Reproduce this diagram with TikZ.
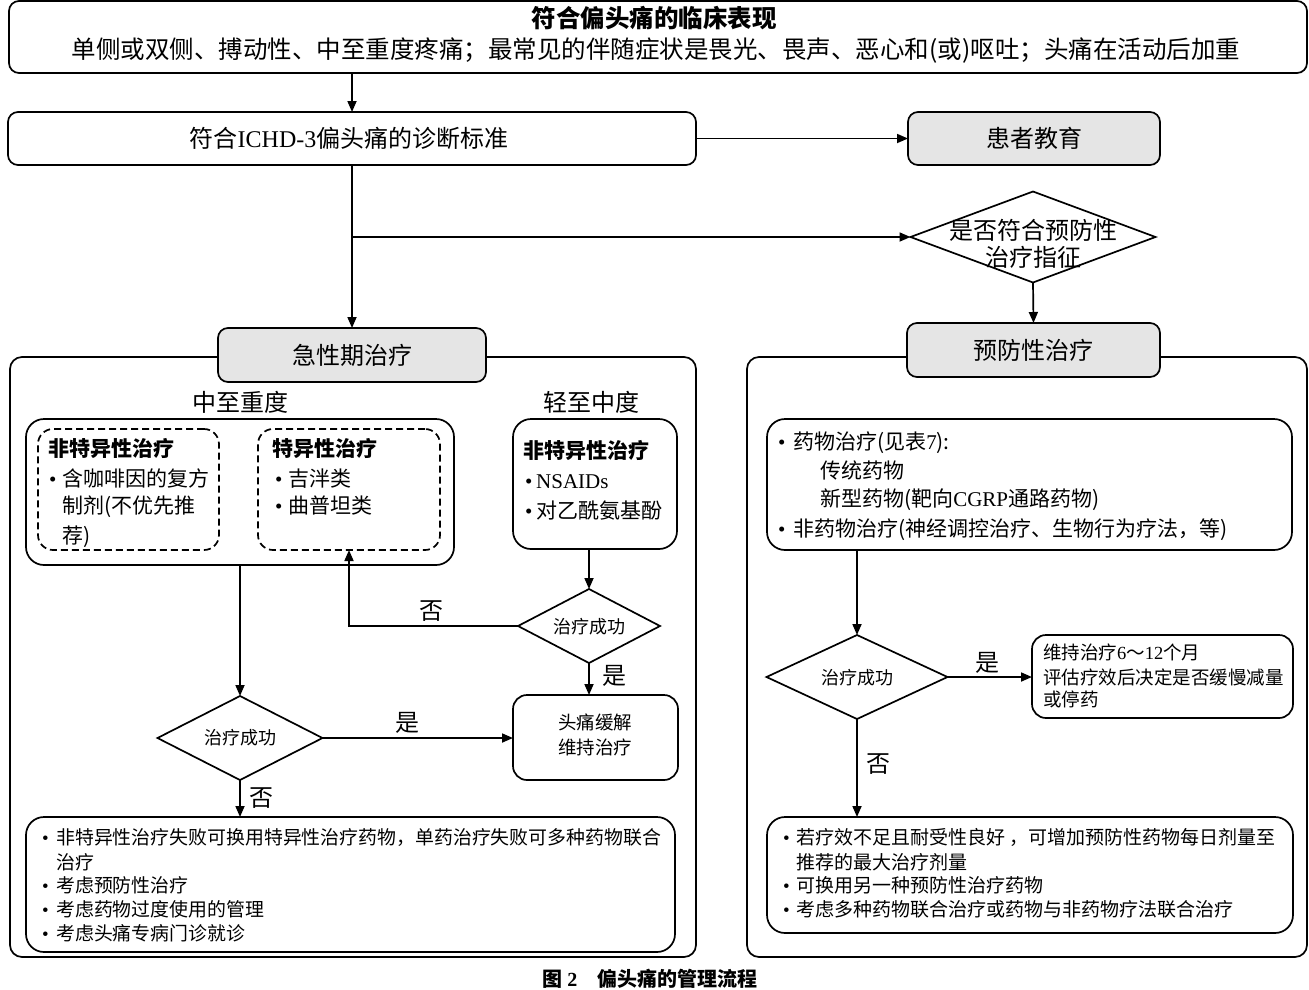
\documentclass[tikz,border=0pt]{standalone}
\usepackage{fontspec}
\setmainfont{Noto Sans CJK SC}
\newfontfamily\lat{Liberation Serif}
\usetikzlibrary{arrows.meta,shapes.geometric}
\newcommand{\fsz}[1]{\fontsize{#1}{#1}\selectfont}
\tikzset{
  lw/.style={line width=1.7pt},
  rbox/.style={draw,lw,rounded corners=#1,anchor=north west,inner sep=0pt,outer sep=0pt},
  rbox/.default=10pt,
  gbox/.style={rbox,fill=gray!20},
  dbox/.style={draw,lw,dashed,dash pattern=on 7pt off 4pt,rounded corners=15pt,anchor=north west,inner sep=0pt,outer sep=0pt},
  dia/.style={draw,lw,diamond,inner sep=0pt,outer sep=0pt,fill=white},
  arr/.style={lw,-{Triangle[length=11pt,width=9pt]}},
  ln/.style={lw},
  tc/.style={anchor=base,inner sep=0pt,font=\fsz{#1}},
  tl/.style={anchor=base west,inner sep=0pt,font=\fsz{#1}},
  tb/.style={anchor=base west,inner sep=0pt,font=\fsz{#1}\bfseries},
}
\begin{document}
\begin{tikzpicture}[x=1pt,y=-1pt]
\useasboundingbox (0,0) rectangle (1309,989);

% panels (drawn first)
\node[rbox=12pt,minimum width=686pt,minimum height=600pt] (lpanel) at (10,357) {};
\node[rbox=12pt,minimum width=560pt,minimum height=600pt] (rpanel) at (747,357) {};

% top
\node[rbox,minimum width=1298pt,minimum height=72pt] (top) at (9,1) {};
\node[tc=24.5,font=\fsz{24.5}\bfseries] (toptitle) at (654,27) {符合偏头痛的临床表现};
\node[tc=24.5] (topline) at (656,58) {单侧或双侧、搏动性、中至重度疼痛；最常见的伴随症状是畏光、畏声、恶心和(或)呕吐；头痛在活动后加重};

\node[rbox,minimum width=688pt,minimum height=53pt] (diag) at (8,112) {};
\node[tc=24] (diagt) at (349,147) {符合{\lat ICHD-3}偏头痛的诊断标准};

\node[gbox,minimum width=252pt,minimum height=53pt] (edu) at (908,112) {};
\node[tc=24] (edut) at (1034,147) {患者教育};

\node[dia,minimum width=245pt,minimum height=91pt] (ind) at (1033,237) {};
\node[tc=24] (indt1) at (1033,239) {是否符合预防性};
\node[tc=24] (indt2) at (1033,266) {治疗指征};

\node[gbox,minimum width=268pt,minimum height=54pt] (acute) at (218,328) {};
\node[tc=24] (acutet) at (352,364) {急性期治疗};

\node[gbox,minimum width=253pt,minimum height=54pt] (prev) at (907,323) {};
\node[tc=24] (prevt) at (1033,359) {预防性治疗};

% arrows top part
\draw[arr] (top.south -| diag.north) -- (diag.north);
\draw[arr] (diag.east) -- (edu.west);
\draw[arr] (diag.south) -- (acute.north);
\draw[arr] (diag.south |- ind.west) -- (ind.west);
\draw[arr] (ind.south) -- (prev.north);

% left panel
\node[tc=24] (sevl) at (240,411) {中至重度};
\node[tc=24] (mildl) at (591,411) {轻至中度};

\node[rbox=18pt,minimum width=428pt,minimum height=146pt] (sev) at (26,419) {};
\node[dbox,minimum width=181pt,minimum height=121pt] (ns) at (38,429) {};
\node[dbox,minimum width=182pt,minimum height=121pt] (sp) at (258,429) {};

\node[tb=21] (nst) at (48,456) {非特异性治疗};
\node[tl=21] (nsb) at (49,486) {\lat •};
\node[tl=21] (ns1) at (62,486) {含咖啡因的复方};
\node[tl=21] (ns2) at (62,513) {制剂(不优先推};
\node[tl=21] (ns3) at (62,543) {荐)};

\node[tb=21] (spt) at (272,456) {特异性治疗};
\node[tl=21] (spb1) at (275,486) {\lat •};
\node[tl=21] (sp1) at (288,486) {吉泮类};
\node[tl=21] (spb2) at (275,513) {\lat •};
\node[tl=21] (sp2) at (288,513) {曲普坦类};

\node[rbox=18pt,minimum width=164pt,minimum height=130pt] (mild) at (513,419) {};
\node[tb=21] (mildt) at (523,458) {非特异性治疗};
\node[tl=21] (mb1) at (525,488) {\lat •};
\node[tl=21] (m1) at (536,488) {\lat NSAIDs};
\node[tl=21] (mb2) at (525,518) {\lat •};
\node[tl=21] (m2) at (536,518) {对乙酰氨基酚};

\node[dia,minimum width=142pt,minimum height=74pt] (d1) at (589,626) {};
\node[tc=18] (d1t) at (589,633) {治疗成功};

\node[rbox=14pt,minimum width=165pt,minimum height=85pt] (relief) at (513,695) {};
\node[tc=18.5] (rt1) at (595,729) {头痛缓解};
\node[tc=18.5] (rt2) at (595,754) {维持治疗};

\node[dia,minimum width=165pt,minimum height=84pt] (d2) at (240,738) {};
\node[tc=18] (d2t) at (240,744) {治疗成功};

\node[rbox=18pt,minimum width=649pt,minimum height=135pt] (bot1) at (26,817) {};
\node[tl=18.9] (b1b1) at (42,844) {\lat •};
\node[tl=18.9] (b1l1) at (56,844) {非特异性治疗失败可换用特异性治疗药物，单药治疗失败可多种药物联合};
\node[tl=18.9] (b1l2) at (56,869) {治疗};
\node[tl=18.9] (b1b2) at (42,892) {\lat •};
\node[tl=18.9] (b1l3) at (56,892) {考虑预防性治疗};
\node[tl=18.9] (b1b3) at (42,916) {\lat •};
\node[tl=18.9] (b1l4) at (56,916) {考虑药物过度使用的管理};
\node[tl=18.9] (b1b4) at (42,940) {\lat •};
\node[tl=18.9] (b1l5) at (56,940) {考虑头痛专病门诊就诊};

\draw[arr] (d1.north |- mild.south) -- (d1.north);
\draw[arr] (d1.west) -| (sp.south);
\node[tc=24] (no1) at (431,619) {否};
\draw[arr] (d1.south) -- (d1.south |- relief.north);
\node[tc=24] (yes1) at (614,684) {是};
\draw[arr] (sev.south -| d2.north) -- (d2.north);
\draw[arr] (d2.east) -- (d2.east -| relief.west);
\node[tc=24] (yes2) at (407,731) {是};
\draw[arr] (d2.south) -- (d2.south |- bot1.north);
\node[tc=24] (no2) at (261,806) {否};

% right panel
\node[rbox=18pt,minimum width=525pt,minimum height=131pt] (drugs) at (767,419) {};
\node[tl=21] (drb1) at (778,449) {\lat •};
\node[tl=21] (dr1) at (793,449) {药物治疗(见表{\lat 7}):};
\node[tl=21] (dr2) at (820,478) {传统药物};
\node[tl=21] (dr3) at (820,506) {新型药物(靶向{\lat CGRP}通路药物)};
\node[tl=21] (drb2) at (778,536) {\lat •};
\node[tl=21] (dr4) at (793,536) {非药物治疗(神经调控治疗、生物行为疗法，等)};

\node[dia,minimum width=181pt,minimum height=84pt] (d3) at (857,677) {};
\node[tc=18] (d3t) at (857,684) {治疗成功};

\node[rbox=14pt,minimum width=261pt,minimum height=83pt] (maint) at (1032,635) {};
\node[tl=18.5] (mt1) at (1043,659) {维持治疗{\lat 6}～{\lat 12}个月};
\node[tl=18.5] (mt2) at (1043,684) {评估疗效后决定是否缓慢减量};
\node[tl=18.5] (mt3) at (1043,706) {或停药};

\node[rbox=18pt,minimum width=526pt,minimum height=116pt] (bot2) at (767,817) {};
\node[tl=19] (b2b1) at (783,844) {\lat •};
\node[tl=19] (b2l1) at (796,844) {若疗效不足且耐受性良好 ，可增加预防性药物每日剂量至};
\node[tl=19] (b2l2) at (796,869) {推荐的最大治疗剂量};
\node[tl=19] (b2b2) at (783,892) {\lat •};
\node[tl=19] (b2l3) at (796,892) {可换用另一种预防性治疗药物};
\node[tl=19] (b2b3) at (783,916) {\lat •};
\node[tl=19] (b2l4) at (796,916) {考虑多种药物联合治疗或药物与非药物疗法联合治疗};

\draw[arr] (d3.north |- drugs.south) -- (d3.north);
\draw[arr] (d3.east) -- (d3.east -| maint.west);
\node[tc=24] (yes3) at (987,671) {是};
\draw[arr] (d3.south) -- (d3.south |- bot2.north);
\node[tc=24] (no3) at (878,772) {否};

% caption
\node[tc=20,font=\fsz{20}\bfseries] (cap) at (650,986) {图 {\lat 2}\quad 偏头痛的管理流程};
\end{tikzpicture}
\end{document}
